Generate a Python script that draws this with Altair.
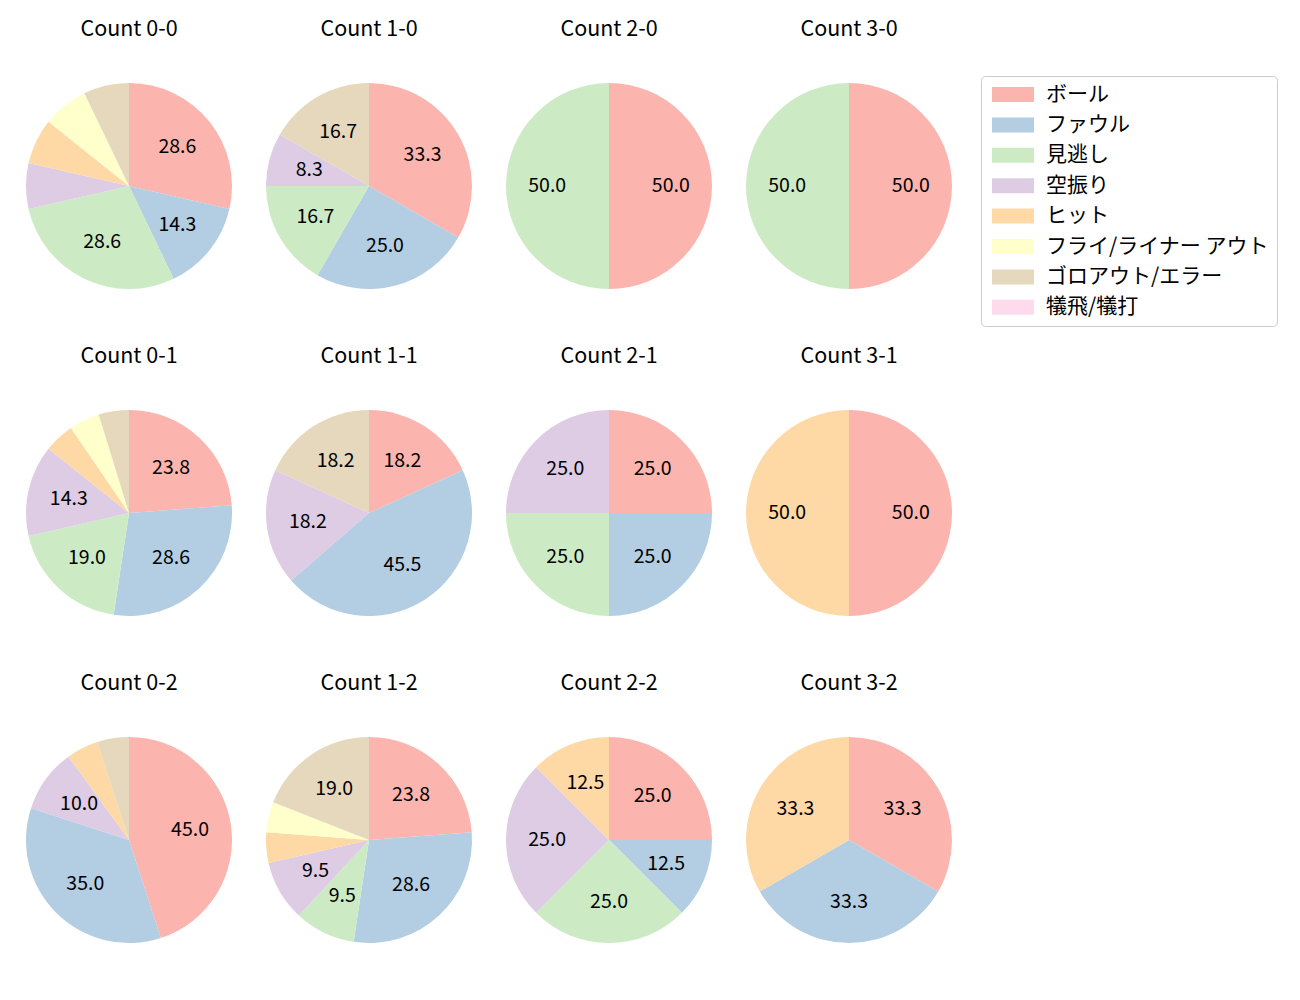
import altair as alt
import pandas as pd

categories = ["ボール", "ファウル", "見逃し", "空振り", "ヒット",
              "フライ/ライナー アウト", "ゴロアウト/エラー", "犠飛/犠打"]
colors = ["#fbb4ae", "#b3cde3", "#ccebc5", "#decbe4", "#fed9a6",
          "#ffffcc", "#e5d8bd", "#fddaec"]
counts_keys = ["0-0", "1-0", "2-0", "3-0",
               "0-1", "1-1", "2-1", "3-1",
               "0-2", "1-2", "2-2", "3-2"]
c_0_0 = [4, 2, 4, 1, 1, 1, 1, 0]
c_1_0 = [4, 3, 2, 1, 0, 0, 2, 0]
c_2_0 = [1, 0, 1, 0, 0, 0, 0, 0]
c_3_0 = [1, 0, 1, 0, 0, 0, 0, 0]
c_0_1 = [5, 6, 4, 3, 1, 1, 1, 0]
c_1_1 = [2, 5, 0, 2, 0, 0, 2, 0]
c_2_1 = [1, 1, 1, 1, 0, 0, 0, 0]
c_3_1 = [1, 0, 0, 0, 1, 0, 0, 0]
c_0_2 = [9, 7, 0, 2, 1, 0, 1, 0]
c_1_2 = [5, 6, 2, 2, 1, 1, 4, 0]
c_2_2 = [2, 1, 2, 2, 1, 0, 0, 0]
c_3_2 = [1, 1, 0, 0, 1, 0, 0, 0]
series = [c_0_0, c_1_0, c_2_0, c_3_0, c_0_1, c_1_1, c_2_1, c_3_1,
          c_0_2, c_1_2, c_2_2, c_3_2]

FONT = "Noto Sans CJK JP"
CX, CY = 121, 178
R = 103

legend = alt.Legend(
    orient="none", legendX=973, legendY=68,
    symbolType="M-1,-1L4.6,-1L4.6,1L-1,1Z",
    symbolSize=225, symbolStrokeWidth=0, symbolOpacity=1,
    labelFontSize=21, labelFont=FONT, labelColor="#000000",
    labelOffset=36, rowPadding=8.4, padding=8,
    strokeColor="#cccccc", cornerRadius=4, fillColor="#ffffff",
    labelLimit=400,
)


def pie(key, vals):
    rows = [{"key": "Count " + key, "cat": c, "idx": i, "n": v}
            for i, (c, v) in enumerate(zip(categories, vals)) if v > 0]
    df = pd.DataFrame(rows)
    base = alt.Chart(df).transform_joinaggregate(
        total="sum(n)"
    ).transform_calculate(
        pct="100 * datum.n / datum.total",
        label="datum.pct >= 8 ? format(datum.pct, '.1f') : ''",
    )
    arcs = base.mark_arc(outerRadius=R, strokeWidth=0).encode(
        theta=alt.Theta("n:Q", stack="normalize"),
        color=alt.Color("cat:N",
                        scale=alt.Scale(domain=categories, range=colors),
                        title=None, legend=legend),
        order=alt.Order("idx:Q"),
        x=alt.value(CX),
        y=alt.value(CY),
    )
    labels = base.mark_text(fontSize=19.5, font=FONT, color="#000000",
                            align="center", baseline="middle").encode(
        theta=alt.Theta("n:Q", stack="normalize"),
        order=alt.Order("idx:Q"),
        radius=alt.value(R * 0.6),
        text=alt.Text("label:N"),
        x=alt.value(CX),
        y=alt.value(CY),
    )
    title = alt.Chart(df).transform_aggregate(
        total="sum(n)", groupby=["key"]
    ).mark_text(fontSize=21.5, font=FONT, color="#000000",
                align="center", baseline="middle").encode(
        text="key:N",
        x=alt.value(CX),
        y=alt.value(22),
    )
    return alt.layer(arcs, labels, title).properties(width=240, height=326.5)


charts = [pie(k, v) for k, v in zip(counts_keys, series)]
grid = alt.vconcat(
    *[alt.hconcat(*charts[r * 4:(r + 1) * 4], spacing=0) for r in range(3)],
    spacing=0,
)

chart = grid.properties(
    padding=0
).configure(
    font=FONT
).configure_view(
    strokeWidth=0, strokeOpacity=0
)

chart.save("out.html", embed_options={"renderer": "svg", "actions": False})
